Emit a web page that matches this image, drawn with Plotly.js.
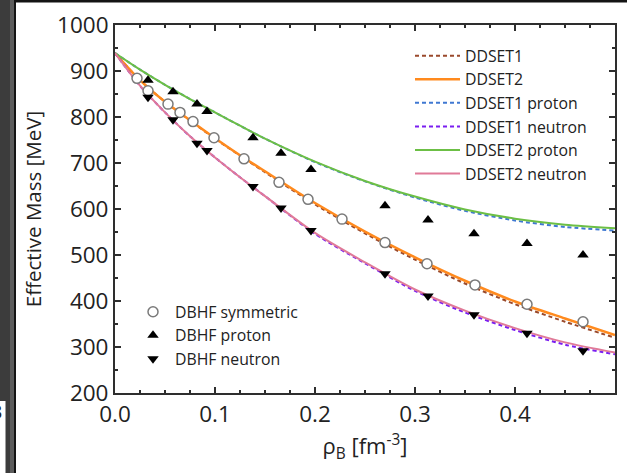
<!DOCTYPE html>
<html>
<head>
<meta charset="utf-8">
<script src="https://cdn.plot.ly/plotly-3.0.1.min.js"></script>
<style>
  html {
    margin: 0; padding: 0;
    background:
      linear-gradient(#ffffff, #ffffff) 0 401px / 5.5px 72px no-repeat,
      linear-gradient(#141414, #141414) 16px 0 / 611px 2.5px no-repeat,
      linear-gradient(to right, #3c3c3c 0px, #3c3c3c 10px, #5c5c5c 10px, #5c5c5c 14px,
                      #141414 14px, #141414 16.5px, #ffffff 16.5px) 0 0 / 100% 100% no-repeat,
      #ffffff;
    min-height: 473px;
  }
  body { margin: 0; padding: 0; background: transparent; }
  #chart { width: 627px; height: 473px; }
</style>
</head>
<body>
<div id="chart"></div>
<script>
// Baryon density grid for the model curves [fm^-3]
const rho = [0, 0.025, 0.05, 0.075, 0.1, 0.125, 0.15, 0.2, 0.25, 0.3, 0.35, 0.4, 0.45, 0.5];

// Effective masses [MeV] from the density-dependent RMF parameter sets
const ddset1      = [939, 880, 833, 792, 753, 716, 680, 610, 547, 490, 438, 393, 355, 320];
const ddset2      = [939, 880, 833, 793, 754, 717, 682, 613, 551, 495, 444, 399, 362, 326];
const ddset1Prot  = [939, 903, 870, 839, 810, 781, 753, 702, 660, 625, 596, 575, 561, 553];
const ddset1Neut  = [939, 868, 810, 758, 712, 669, 628, 546, 482, 422, 375, 337, 305, 284];
const ddset2Prot  = [939, 903, 870, 839, 810, 781, 753, 703, 661, 627, 599, 579, 566, 558];
const ddset2Neut  = [939, 868, 810, 758, 712, 669, 628, 548, 484, 425, 379, 341, 310, 288];

// DBHF reference points
const symRho  = [0.022, 0.033, 0.053, 0.065, 0.078, 0.099, 0.129, 0.164, 0.193, 0.227, 0.270, 0.312, 0.360, 0.412, 0.468];
const symMass = [884, 857, 828, 810, 790, 755, 709, 658, 621, 578, 527, 481, 435, 393, 355];
const asyRho   = [0.033, 0.058, 0.082, 0.092, 0.138, 0.166, 0.196, 0.270, 0.313, 0.359, 0.412, 0.468];
const protMass = [880, 855, 828, 812, 755, 721, 686, 607, 576, 546, 525, 500];
const neutMass = [843, 794, 743, 727, 649, 602, 553, 459, 411, 370, 330, 292];

const curveNames = ['DDSET1', 'DDSET2', 'DDSET1 proton', 'DDSET1 neutron', 'DDSET2 proton', 'DDSET2 neutron'];
const curveData  = [ddset1, ddset2, ddset1Prot, ddset1Neut, ddset2Prot, ddset2Neut];
const curveColors = ['#9a4a2c', '#ff8a1e', '#3f78d2', '#7a1ef0', '#6cbf45', '#e07a98'];
const curveDash   = ['4px,3px', 'solid', '4px,3px', '4px,3px', 'solid', 'solid'];
const curveWidth  = [2, 2.5, 2, 2, 2, 2];

const font = 'Open Sans, Noto Sans, sans-serif';

const traces = curveNames.map((name, i) => ({
  x: rho, y: curveData[i], name: name, type: 'scatter', mode: 'lines',
  line: { color: curveColors[i], width: curveWidth[i], dash: curveDash[i], shape: 'spline', smoothing: 0.8 },
  legend: 'legend'
}));

traces.push({
  x: symRho, y: symMass, name: 'DBHF symmetric', type: 'scatter', mode: 'markers',
  marker: { symbol: 'circle', size: 10, color: '#ffffff', line: { color: '#7a7a7a', width: 1.5 } },
  legend: 'legend2'
});
traces.push({
  x: asyRho, y: protMass, name: 'DBHF proton', type: 'scatter', mode: 'markers',
  marker: { symbol: 'triangle-up', size: 10, color: '#000000' },
  legend: 'legend2'
});
traces.push({
  x: asyRho, y: neutMass, name: 'DBHF neutron', type: 'scatter', mode: 'markers',
  marker: { symbol: 'triangle-down', size: 10, color: '#000000' },
  legend: 'legend2'
});

// plot box in pixels: left 115, right 615, top 25, bottom 393
const px = v => (v - 115) / 500;
const py = v => (393 - v) / 368;

const axisCommon = {
  showgrid: false, zeroline: false, showline: true, linewidth: 2, linecolor: '#2e2e2e',
  mirror: 'ticks', ticks: 'inside', ticklen: 6, tickwidth: 1.5, tickcolor: '#2e2e2e',
  tickfont: { family: font, size: 22.5, color: '#222' }
};

const layout = {
  width: 627, height: 473,
  margin: { l: 115, r: 12, t: 25, b: 80 },
  paper_bgcolor: 'rgba(0,0,0,0)', plot_bgcolor: '#ffffff',
  showlegend: true,
  xaxis: Object.assign({}, axisCommon, {
    range: [0, 0.5], tick0: 0, dtick: 0.1, tickformat: '.1f',
    minor: { dtick: 0.025, ticks: 'inside', ticklen: 3, tickwidth: 1.5, tickcolor: '#2e2e2e' },
    title: { text: 'ρ<sub>B</sub> [fm<sup>-3</sup>]', font: { family: font, size: 22, color: '#222' }, standoff: 10 }
  }),
  yaxis: Object.assign({}, axisCommon, {
    range: [200, 1000], tick0: 200, dtick: 100,
    minor: { dtick: 50, ticks: 'inside', ticklen: 3, tickwidth: 1.5, tickcolor: '#2e2e2e' },
    title: { text: 'Effective Mass [MeV]', font: { family: font, size: 20.5, color: '#222' }, standoff: 10 }
  }),
  legend: {
    x: px(410), y: py(39), xanchor: 'left', yanchor: 'top',
    bgcolor: 'rgba(0,0,0,0)', borderwidth: 0, itemwidth: 45,
    font: { family: font, size: 15.8, color: '#222' }
  },
  legend2: {
    x: px(131), y: py(295), xanchor: 'left', yanchor: 'top',
    bgcolor: 'rgba(0,0,0,0)', borderwidth: 0, itemwidth: 34,
    font: { family: font, size: 15.8, color: '#222' }
  },
  annotations: [
    { xref: 'paper', yref: 'paper', x: px(4), y: py(411), xanchor: 'right', yanchor: 'middle',
      text: '3', showarrow: false, font: { family: font, size: 20, color: '#222' } }
  ]
};

Plotly.newPlot('chart', traces, layout, { displayModeBar: false, staticPlot: true });
</script>
</body>
</html>
